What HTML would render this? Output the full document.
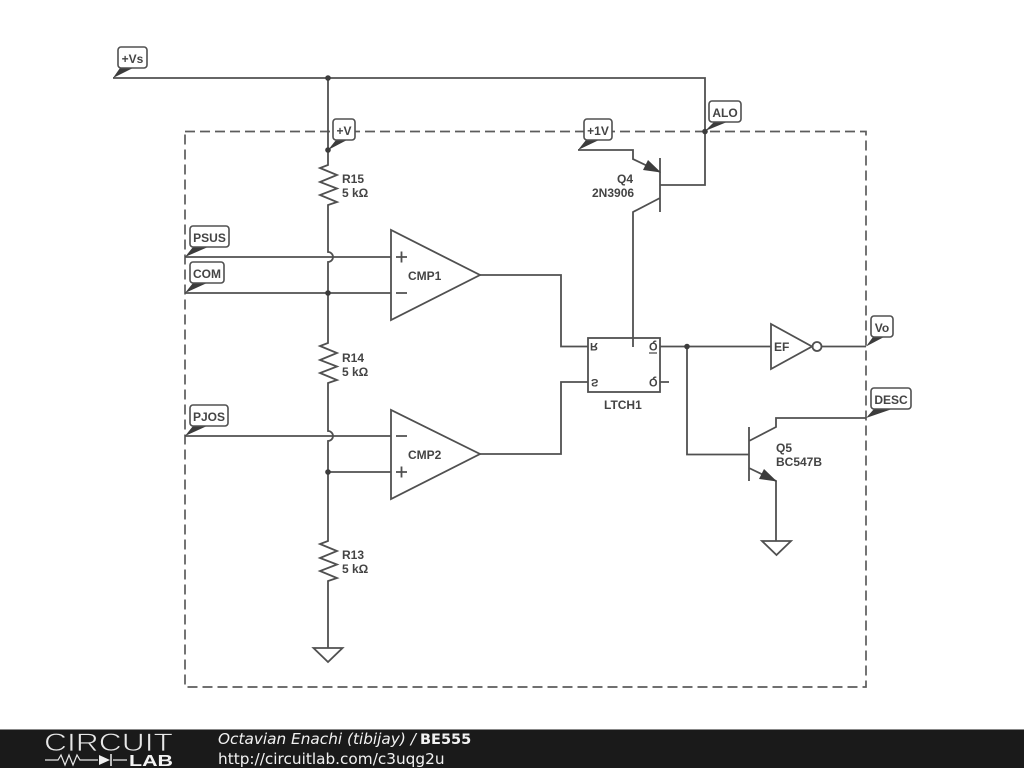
<!DOCTYPE html>
<html><head><meta charset="utf-8"><style>
html,body{margin:0;padding:0;background:#fff;width:1024px;height:768px;overflow:hidden}
svg{display:block}
.w{fill:none;stroke:#505050;stroke-width:1.8}
.t{font:bold 12px "Liberation Sans",sans-serif;fill:#444}
.l{font:bold 12px "Liberation Sans",sans-serif;fill:#444;text-anchor:middle}
.b{fill:#fff;stroke:#505050;stroke-width:1.6}
.p{fill:#3c3c3c}
</style></head><body>
<svg width="1024" height="768" viewBox="0 0 1024 768" xmlns="http://www.w3.org/2000/svg">
<rect width="1024" height="768" fill="#fff"/>
<!-- dashed box -->
<rect x="185" y="131.5" width="681" height="555.500" fill="none" stroke="#5c5c5c" stroke-width="1.700" stroke-dasharray="10 5"/>
<!-- wires -->
<path class="w" d="M113 78H705V185H660"/>
<path class="w" d="M328 78V165L320 168L337 175L320 182L337 188.5L320 195L337 202L328 205V252A5 5 0 0 1 328 262V343L320 346L337 353L320 360L337 366.5L320 373L337 380L328 383V431A5 5 0 0 1 328 441V541L320 544L337 551L320 558L337 564.5L320 571L337 578L328 581V648"/>
<path class="w" d="M313.500 648H342.500L328 662Z"/>
<path class="w" d="M185 257H391M185 293H391M185 436H391M328 472H391"/>
<path class="w" d="M391 230V320L480 275ZM391 410V499L480 454Z"/>
<path class="w" d="M396 257H407M401.500 251.500V262.500M396 293H407M396 436H407M396 472H407M401.500 466.500V477.500"/>
<path class="w" d="M480 275H561V346.500H588M480 454H561V382H588"/>
<rect class="w" x="588" y="338" width="72" height="54"/>
<path class="w" d="M578 150H633V159L660 172M660 158V212M660 198L633 212V347"/>
<path class="p" d="M661 172.500L643 170L648 160Z"/>
<path class="w" d="M660 346.500H771M660 382H669M687 346.500V454.500H749"/>
<path class="w" d="M771 324V369L812 346.500Z"/>
<circle class="w" cx="817" cy="346.500" r="4.500"/>
<path class="w" d="M821.500 346.500H866"/>
<path class="w" d="M749 427V481M749 441L776 427V418H866M749 468L776 481V541"/>
<path class="p" d="M777 481.500L759 479L764 469Z"/>
<path class="w" d="M762 541H791L776.500 555Z"/>
<!-- dots -->
<g class="p"><circle cx="328" cy="78" r="2.800"/><circle cx="328" cy="150" r="2.800"/><circle cx="705" cy="131.500" r="2.800"/><circle cx="328" cy="293" r="2.800"/><circle cx="328" cy="472" r="2.800"/><circle cx="687" cy="346.500" r="2.800"/></g>
<!-- pointers -->
<g class="p">
<path d="M113 78L120 68H133Z"/>
<path d="M328 150L336 140H347Z"/>
<path d="M578 150L586 140H599Z"/>
<path d="M705 131L714 122H727Z"/>
<path d="M185 257L193 247H208Z"/>
<path d="M185 293L193 283H207Z"/>
<path d="M185 436L193 426H207Z"/>
<path d="M866 346.500L873 337H884Z"/>
<path d="M866 418L874 409H892Z"/>
</g>
<!-- label boxes -->
<rect class="b" x="118" y="47" width="29" height="21" rx="3"/><text class="l" x="132.500" y="63">+Vs</text>
<rect class="b" x="333" y="119" width="22" height="21" rx="3"/><text class="l" x="344" y="135">+V</text>
<rect class="b" x="584" y="119" width="28" height="21" rx="3"/><text class="l" x="598" y="135">+1V</text>
<rect class="b" x="709" y="101" width="32" height="21" rx="3"/><text class="l" x="725" y="117">ALO</text>
<rect class="b" x="190" y="226" width="39" height="21" rx="3"/><text class="l" x="209.500" y="242">PSUS</text>
<rect class="b" x="190" y="262" width="34" height="21" rx="3"/><text class="l" x="207" y="278">COM</text>
<rect class="b" x="190" y="405" width="38" height="21" rx="3"/><text class="l" x="209" y="421">PJOS</text>
<rect class="b" x="871" y="316" width="22" height="21" rx="3"/><text class="l" x="882" y="332">Vo</text>
<rect class="b" x="871" y="388" width="40" height="21" rx="3"/><text class="l" x="891" y="404">DESC</text>
<!-- text -->
<text class="t" x="342" y="183">R15</text><text class="t" x="342" y="197">5 kΩ</text>
<text class="t" x="342" y="362">R14</text><text class="t" x="342" y="376">5 kΩ</text>
<text class="t" x="342" y="559">R13</text><text class="t" x="342" y="573">5 kΩ</text>
<text class="t" x="408" y="280">CMP1</text>
<text class="t" x="408" y="459">CMP2</text>
<text class="t" x="604" y="409">LTCH1</text>
<text class="t" x="774" y="351">EF</text>
<text class="t" x="617" y="183">Q4</text><text class="t" x="592" y="197">2N3906</text>
<text class="t" x="776" y="452">Q5</text><text class="t" x="776" y="466">BC547B</text>
<g class="t" style="font-size:11px">
<text transform="translate(590,343) scale(1,-1)">R</text>
<text transform="translate(591,379) scale(1,-1)">S</text>
<text transform="translate(649,343) scale(1,-1)">Q</text>
<text transform="translate(649,379) scale(1,-1)">Q</text>
</g>
<path d="M649 353H657" stroke="#444" stroke-width="1.200"/>
<!-- footer -->
<rect x="0" y="729" width="1024" height="39" fill="#1a1a1a"/>
<rect x="0" y="729" width="1024" height="1" fill="#888"/>
<text x="44" y="751" font-family="Liberation Sans,sans-serif" font-size="25" fill="#e8e8e8" stroke="#1a1a1a" stroke-width="0.7" textLength="129" lengthAdjust="spacingAndGlyphs">CIRCUIT</text>
<path d="M45 760H58L61 755L65 765L69 755L73 765L77 755L80 760H98M113 760H127" fill="none" stroke="#e8e8e8" stroke-width="1.200"/>
<path d="M99 755V765L110 760Z" fill="#f0f0f0"/><path d="M111 754V766" stroke="#f0f0f0" stroke-width="1.500"/>
<text x="129" y="766" font-family="Liberation Sans,sans-serif" font-weight="bold" font-size="16" fill="#f4f4f4" textLength="44" lengthAdjust="spacingAndGlyphs">LAB</text>
<text x="218" y="744" font-family="DejaVu Sans,sans-serif" font-size="15.300" font-style="italic" fill="#f2f2f2">Octavian Enachi (tibijay) /</text>
<text x="420" y="744" font-family="DejaVu Sans,sans-serif" font-size="14.500" font-weight="bold" fill="#f2f2f2">BE555</text>
<text x="218" y="764" font-family="DejaVu Sans,sans-serif" font-size="15.300" fill="#f2f2f2">http://circuitlab.com/c3uqg2u</text>
</svg>
</body></html>
